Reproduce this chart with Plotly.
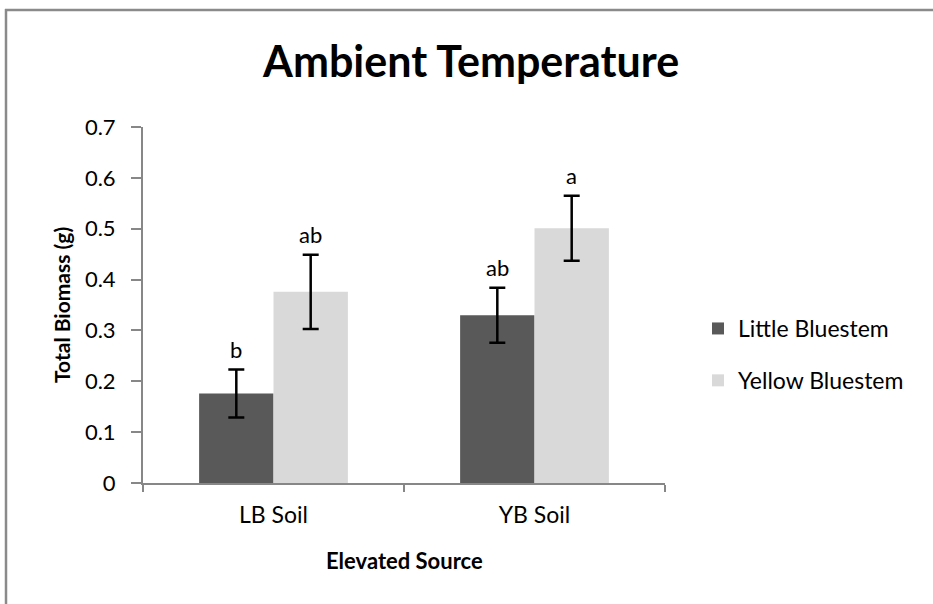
import plotly.graph_objects as go

# ---- data ----
categories = ["LB Soil", "YB Soil"]
series_names = ["Little Bluestem", "Yellow Bluestem"]
little_bluestem = [0.176, 0.330]
little_bluestem_err = [0.047, 0.054]
yellow_bluestem = [0.376, 0.501]
yellow_bluestem_err = [0.073, 0.064]
little_letters = ["b", "ab"]
yellow_letters = ["ab", "a"]
y_tick_vals = [0, 0.1, 0.2, 0.3, 0.4, 0.5, 0.6, 0.7]
y_tick_text = ["0", "0.1", "0.2", "0.3", "0.4", "0.5", "0.6", "0.7"]

# ---- geometry (pixels) ----
W, H = 933, 604
ML, MR, MT, MB = 143, 268, 127, 121
PW, PH = W - ML - MR, H - MT - MB
BARGAP = 0.43


def px_x(px):
    return (px - ML) / PW


def px_y(py):
    return (H - MB - py) / PH


FONT = "Lato"
AXIS_GREY = "#878787"
FRAME_GREY = "#8a8a8a"
DARK = "#595959"
LIGHT = "#d9d9d9"

fig = go.Figure()
fig.add_trace(go.Bar(
    name=series_names[0], x=categories, y=little_bluestem,
    marker=dict(color=DARK, line=dict(width=0)),
    error_y=dict(type="data", array=little_bluestem_err, color="black",
                 thickness=2.5, width=8),
    legendgroup="lb",
))
fig.add_trace(go.Bar(
    name=series_names[1], x=categories, y=yellow_bluestem,
    marker=dict(color=LIGHT, line=dict(width=0)),
    error_y=dict(type="data", array=yellow_bluestem_err, color="black",
                 thickness=2.5, width=8),
    legendgroup="yb",
))

# significance letters above each error bar
offset = (1 - BARGAP) / 4
annotations = []
for i, cat in enumerate(categories):
    for letters, vals, errs, sign in (
        (little_letters, little_bluestem, little_bluestem_err, -1),
        (yellow_letters, yellow_bluestem, yellow_bluestem_err, 1),
    ):
        annotations.append(dict(
            x=i + sign * offset, y=vals[i] + errs[i], xref="x", yref="y",
            text=letters[i], showarrow=False, yanchor="bottom", yshift=5,
            font=dict(family=FONT, size=22, color="black"),
        ))

# axis titles
annotations.append(dict(
    x=0.5, y=px_y(560), xref="paper", yref="paper",
    text="<b>Elevated Source</b>", showarrow=False,
    xanchor="center", yanchor="middle",
    font=dict(family=FONT, size=22, color="black"),
))
annotations.append(dict(
    x=px_x(61), y=0.5, xref="paper", yref="paper",
    text="<b>Total Biomass (g)</b>", showarrow=False, textangle=-90,
    xanchor="center", yanchor="middle",
    font=dict(family=FONT, size=21, color="black"),
))

# chart frame: top and left edges (the rest runs off the page)
shapes = [
    dict(type="line", xref="paper", yref="paper",
         x0=px_x(5), x1=px_x(W), y0=px_y(10), y1=px_y(10),
         line=dict(color=FRAME_GREY, width=2.5), layer="above"),
    dict(type="line", xref="paper", yref="paper",
         x0=px_x(6), x1=px_x(6), y0=px_y(9), y1=px_y(H),
         line=dict(color=FRAME_GREY, width=2.5), layer="above"),
]

fig.update_layout(
    width=W, height=H,
    margin=dict(l=ML, r=MR, t=MT, b=MB, autoexpand=False),
    paper_bgcolor="white", plot_bgcolor="white",
    barmode="group", bargap=BARGAP, bargroupgap=0,
    title=dict(
        text="<b>Ambient Temperature</b>",
        x=0.505, xref="container", xanchor="center",
        y=1 - 62 / H, yref="container", yanchor="middle",
        font=dict(family=FONT, size=43, color="black"),
    ),
    font=dict(family=FONT, color="black"),
    legend=dict(
        x=px_x(698), y=px_y(307), xanchor="left", yanchor="top",
        traceorder="grouped", tracegroupgap=19,
        font=dict(family=FONT, size=23, color="black"),
        bgcolor="rgba(0,0,0,0)", borderwidth=0,
    ),
    xaxis=dict(
        type="category", range=[-0.5, 1.5],
        showline=True, linecolor=AXIS_GREY, linewidth=2,
        ticks="outside", tickson="boundaries", ticklen=7,
        tickcolor=AXIS_GREY, tickwidth=2,
        showgrid=False, zeroline=False,
        tickfont=dict(family=FONT, size=23, color="black"),
        ticklabelstandoff=10,
    ),
    yaxis=dict(
        range=[0, 0.7], tickvals=y_tick_vals, ticktext=y_tick_text,
        showline=True, linecolor=AXIS_GREY, linewidth=2,
        ticks="outside", ticklen=10, tickcolor=AXIS_GREY, tickwidth=2,
        showgrid=False, zeroline=False,
        tickfont=dict(family=FONT, size=22, color="black"),
        ticklabelstandoff=11,
    ),
    annotations=annotations,
    shapes=shapes,
)

# keep the page exactly the figure's size, without scrollbars
page_css = (
    "document.documentElement.style.overflow='hidden';"
    "document.body.style.overflow='hidden';"
    "document.body.style.margin='0';"
)
fig.write_html("out.html", post_script=page_css)
